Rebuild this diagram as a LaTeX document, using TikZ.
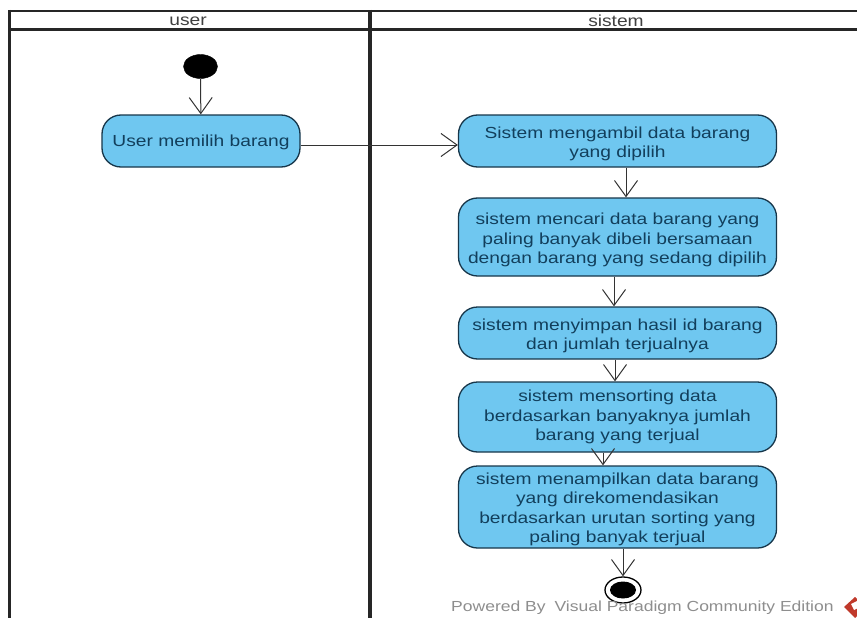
\documentclass[tikz,border=0pt]{standalone}
\usepackage{fontspec}
\setmainfont{Liberation Sans}
\newfontfamily\widefont[FakeStretch=1.2]{Liberation Sans}
\usetikzlibrary{arrows.meta,shapes.geometric}
\definecolor{actfill}{HTML}{6FC7F0}
\definecolor{actline}{HTML}{17364A}
\definecolor{acttext}{HTML}{123F5C}
\definecolor{wmgray}{HTML}{8E8E8E}
\definecolor{wmred}{HTML}{C0392B}
\tikzset{
  x=1pt,y=-1pt,
  lane/.style={line cap=butt,draw=black!85},
  act/.style={draw=actline,line width=1.3pt,fill=actfill,rounded corners=19pt,inner sep=0pt,minimum width=318pt},
  acttxt/.style={inner sep=0pt,text=acttext,align=center,font=\widefont\fontsize{16}{19.5}\selectfont},
  flow/.style={draw=black!80,line width=1pt,-{Straight Barb[length=16pt,width=23pt,line width=1pt]}},
  lanetitle/.style={font=\widefont\fontsize{16}{15}\selectfont,text=black!75,inner sep=0pt},
}
\begin{document}
\begin{tikzpicture}
\useasboundingbox[fill=white] (0,0) rectangle (857,618);
\clip (0,0) rectangle (857,618);
\draw[lane,line width=1.8pt] (8,11) -- (857,11);
\draw[lane,line width=3pt] (8,30) -- (857,30);
\draw[lane,line width=3pt] (9,10) -- (9,618);
\draw[lane,line width=4pt] (370,10) -- (370,618);
\node[lanetitle] (t1) at (188,21) {user};
\node[lanetitle] (t2) at (616,21) {sistem};

\node[draw=black,fill=black,ellipse,inner sep=0pt,minimum width=34pt,minimum height=24pt] (start) at (200.5,66.5) {};
\node[act,minimum width=198pt,minimum height=52pt] (a0) at (201,141) {};
\node[act,minimum height=52pt] (a1) at (617.5,141) {};
\node[act,minimum height=78pt] (a2) at (617.5,237) {};
\node[act,minimum height=52pt] (a3) at (617.5,333) {};
\node[act,minimum height=70pt] (a4) at (617.5,417) {};
\node[act,minimum height=82pt] (a5) at (617.5,507) {};
\node[acttxt] (a0t) at ([yshift=-1pt]a0.center) {User memilih barang};
\node[acttxt] (a1t) at ([yshift=-3pt]a1.center) {Sistem mengambil data barang\\yang dipilih};
\node[acttxt] (a2t) at ([yshift=-3pt]a2.center) {sistem mencari data barang yang\\paling banyak dibeli bersamaan\\dengan barang yang sedang dipilih};
\node[acttxt] (a3t) at ([yshift=-3pt]a3.center) {sistem menyimpan hasil id barang\\dan jumlah terjualnya};
\node[acttxt] (a4t) at (a4.center) {sistem mensorting data\\berdasarkan banyaknya jumlah\\barang yang terjual};
\node[acttxt] (a5t) at ([yshift=-2.5pt]a5.center) {sistem menampilkan data barang\\yang direkomendasikan\\berdasarkan urutan sorting yang\\paling banyak terjual};
\node[draw=black,line width=1.3pt,fill=white,ellipse,inner sep=0pt,minimum width=36pt,minimum height=26pt] (end) at (623,590) {};
\node[fill=black,ellipse,inner sep=0pt,minimum width=26pt,minimum height=17pt] (endin) at (623,590) {};

\draw[flow] (start) -- (a0);
\draw[flow] ([yshift=-4pt]a0.east) -- ([yshift=-4pt]a1.west);
\draw[flow] ([xshift=8.5pt]a1.south) -- ([xshift=8.5pt]a2.north);
\draw[flow] ([xshift=-3.5pt]a2.south) -- ([xshift=-3.5pt]a3.north);
\draw[flow] ([xshift=-2.5pt]a3.south) -- ([xshift=-2.5pt]a4.north);
\draw[flow] ([xshift=-14.5pt]a4.south) -- ([xshift=-14.5pt]a5.north);
\draw[flow] ([xshift=5.5pt]a5.south) -- (end);

\node[anchor=west,inner sep=0pt,text=wmgray,font=\widefont\fontsize{14.6}{15}\selectfont] (wm) at (451,608) {Powered By\hspace{4pt} Visual Paradigm Community Edition};
\fill[wmred] (844,607) -- (855,597) -- (866,607) -- (855,618) -- cycle;
\fill[white] (851,604) -- (857,601) -- (860,607) -- (854,610) -- cycle;
\end{tikzpicture}
\end{document}
